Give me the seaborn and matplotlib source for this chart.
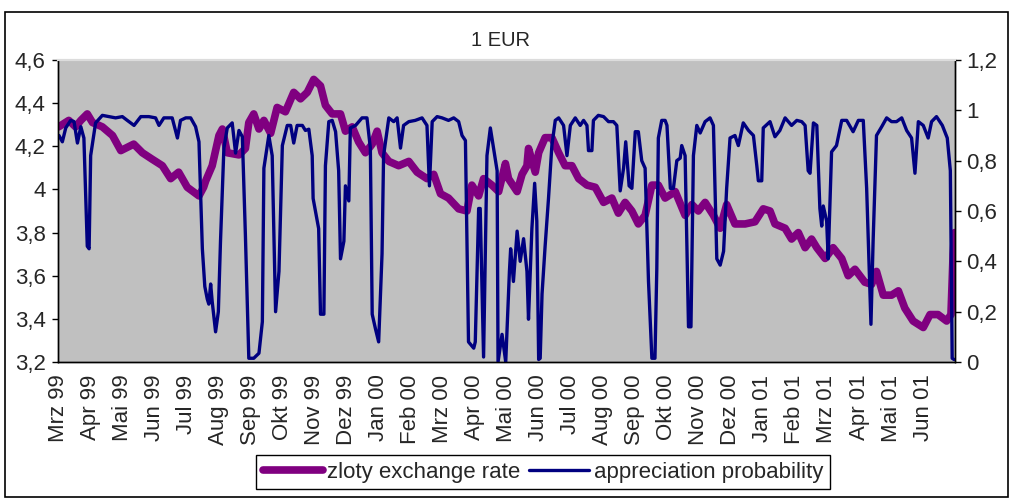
import matplotlib
matplotlib.use("Agg")
import matplotlib.pyplot as plt
import matplotlib.patches as patches
from matplotlib.ticker import FixedLocator, FuncFormatter, NullFormatter
import pandas as pd
import seaborn as sns

# x positions are months counted from the start of March 1999
rate_month = [0.02, 0.35, 0.57, 0.74, 0.95, 1.12, 1.44, 1.77, 2.04, 2.46, 2.74, 3.06,
              3.39, 3.66, 3.92, 4.20, 4.58, 4.73, 4.80, 5.01, 5.23, 5.34, 5.50, 5.88,
              6.09, 6.20, 6.36, 6.53, 6.69, 6.91, 7.12, 7.39, 7.66, 7.88, 8.10, 8.31,
              8.53, 8.69, 8.91, 9.18, 9.34, 9.56, 9.77, 9.99, 10.21, 10.37, 10.53, 10.75,
              11.07, 11.40, 11.67, 11.99, 12.21, 12.43, 12.69, 13.02, 13.29, 13.45, 13.67,
              13.83, 14.10, 14.32, 14.54, 14.64, 14.92, 15.08, 15.24, 15.29, 15.51, 15.62,
              15.83, 16.05, 16.27, 16.48, 16.70, 16.92, 17.19, 17.46, 17.73, 18.00, 18.21,
              18.43, 18.65, 18.86, 19.08, 19.30, 19.51, 19.73, 20.06, 20.38, 20.60, 20.81,
              21.03, 21.30, 21.52, 21.73, 22.00, 22.33, 22.65, 22.92, 23.14, 23.30, 23.63,
              23.84, 24.06, 24.28, 24.49, 24.66, 24.93, 25.19, 25.47, 25.68, 25.90, 26.22,
              26.44, 26.60, 26.82, 27.09, 27.31, 27.52, 27.79, 28.12, 28.34, 28.60, 28.88,
              29.02, 29.09, 29.14]
rate_value = [4.29, 4.32, 4.29, 4.32, 4.35, 4.31, 4.29, 4.25, 4.18, 4.21, 4.17, 4.14,
              4.11, 4.05, 4.08, 4.01, 3.97, 4.01, 4.04, 4.11, 4.25, 4.28, 4.17, 4.16,
              4.19, 4.31, 4.35, 4.28, 4.32, 4.26, 4.38, 4.36, 4.45, 4.42, 4.45, 4.51,
              4.48, 4.39, 4.35, 4.35, 4.27, 4.29, 4.22, 4.17, 4.21, 4.27, 4.17, 4.13,
              4.11, 4.13, 4.08, 4.05, 4.07, 3.98, 3.96, 3.91, 3.90, 4.02, 3.97,
              4.05, 4.02, 3.99, 4.12, 4.05, 3.99, 4.07, 4.11, 4.19, 4.08, 4.17,
              4.24, 4.24, 4.17, 4.11, 4.11, 4.05, 4.02, 4.01, 3.94, 3.96, 3.89,
              3.94, 3.90, 3.84, 3.88, 4.02, 4.02, 3.96, 3.99, 3.88, 3.93, 3.90,
              3.94, 3.88, 3.82, 3.93, 3.84, 3.84, 3.85, 3.91, 3.90, 3.84, 3.82,
              3.77, 3.80, 3.73, 3.77, 3.73, 3.68, 3.73, 3.68, 3.60, 3.63, 3.57,
              3.56, 3.62, 3.51, 3.51, 3.53, 3.45, 3.39, 3.36, 3.42, 3.42, 3.39,
              3.42, 3.70, 3.80]

prob_month = [0.03, 0.14, 0.25, 0.41, 0.52, 0.63, 0.74, 0.84, 0.95, 1.01, 1.06, 1.22,
              1.44, 1.66, 1.87, 2.09, 2.25, 2.47, 2.69, 2.95, 3.17, 3.28, 3.44, 3.71,
              3.88, 3.98, 4.15, 4.31, 4.47, 4.58, 4.69, 4.77, 4.85, 4.90, 4.96, 5.01,
              5.12, 5.21, 5.28, 5.39, 5.50, 5.66, 5.77, 5.88, 5.99, 6.09, 6.20, 6.36,
              6.53, 6.64, 6.69, 6.85, 6.96, 7.07, 7.18, 7.29, 7.45, 7.56, 7.66, 7.77,
              7.94, 8.04, 8.15, 8.26, 8.29, 8.47, 8.53, 8.64, 8.69, 8.80, 8.91, 9.02,
              9.12, 9.18, 9.29, 9.34, 9.45, 9.50, 9.67, 9.88, 10.04, 10.15, 10.21, 10.32,
              10.42, 10.53, 10.58, 10.75, 10.91, 11.02, 11.13, 11.23, 11.40, 11.61, 11.83,
              11.99, 12.07, 12.16, 12.32, 12.48, 12.69, 12.86, 13.02, 13.13, 13.24, 13.29,
              13.34, 13.51, 13.56, 13.67, 13.72, 13.83, 13.94, 14.05, 14.27, 14.30, 14.43,
              14.55, 14.67, 14.71, 14.80, 14.92, 15.02, 15.13, 15.24, 15.29, 15.40, 15.49,
              15.56, 15.62, 15.67, 15.73, 15.83, 15.94, 16.05, 16.16, 16.27, 16.43, 16.54,
              16.65, 16.81, 16.97, 17.08, 17.19, 17.24, 17.35, 17.40, 17.56, 17.73, 17.89,
              18.05, 18.16, 18.27, 18.38, 18.45, 18.56, 18.65, 18.76, 18.86, 18.97, 19.08,
              19.19, 19.30, 19.40, 19.46, 19.51, 19.62, 19.73, 19.79, 19.90, 20.00, 20.11,
              20.22, 20.27, 20.38, 20.49, 20.57, 20.65, 20.76, 20.87, 21.03, 21.19, 21.30,
              21.41, 21.52, 21.63, 21.73, 21.84, 22.00, 22.11, 22.27, 22.44, 22.60, 22.71,
              22.76, 22.87, 22.92, 23.14, 23.30, 23.46, 23.63, 23.84, 24.01, 24.17, 24.28,
              24.38, 24.44, 24.55, 24.66, 24.76, 24.82, 24.87, 24.98, 25.03, 25.14, 25.30,
              25.47, 25.63, 25.84, 26.01, 26.17, 26.28, 26.42, 26.49, 26.60, 26.77, 26.93,
              27.09, 27.25, 27.42, 27.58, 27.74, 27.85, 27.96, 28.12, 28.28, 28.39, 28.55,
              28.74, 28.90, 29.00, 29.06, 29.12]
prob_value = [0.90, 0.875, 0.93, 0.96, 0.955, 0.87, 0.935, 0.89, 0.46, 0.45, 0.82, 0.95,
              0.98, 0.975, 0.97, 0.975, 0.96, 0.94, 0.975, 0.975, 0.97, 0.94, 0.97, 0.97,
              0.89, 0.96, 0.97, 0.97, 0.935, 0.875, 0.45, 0.30, 0.25, 0.23, 0.31, 0.24,
              0.12, 0.20, 0.48, 0.85, 0.93, 0.95, 0.83, 0.92, 0.895, 0.50, 0.015, 0.015,
              0.035, 0.16, 0.77, 0.90, 0.82, 0.20, 0.36, 0.86, 0.94, 0.94, 0.87, 0.94,
              0.94, 0.92, 0.925, 0.82, 0.65, 0.53, 0.19, 0.19, 0.78, 0.955, 0.96, 0.915,
              0.76, 0.41, 0.48, 0.70, 0.64, 0.93, 0.94, 0.97, 0.97, 0.85, 0.19, 0.13,
              0.08, 0.43, 0.82, 0.97, 0.955, 0.97, 0.85, 0.94, 0.955, 0.96, 0.97,
              0.94, 0.70, 0.955, 0.975, 0.97, 0.96, 0.97, 0.955, 0.90, 0.88, 0.49,
              0.08, 0.055, 0.08, 0.61, 0.61, 0.02, 0.82, 0.93, 0.76, 0.0, 0.11,
              0.0, 0.36, 0.45, 0.32, 0.52, 0.40, 0.49, 0.36, 0.17, 0.53, 0.71,
              0.56, 0.01, 0.015, 0.27, 0.46, 0.65, 0.86, 0.96, 0.97, 0.94, 0.82,
              0.94, 0.97, 0.94, 0.96, 0.94, 0.84, 0.84, 0.96, 0.98, 0.975, 0.955,
              0.955, 0.94, 0.68, 0.77, 0.875, 0.70, 0.69, 0.915, 0.915, 0.80, 0.77,
              0.32, 0.015, 0.015, 0.37, 0.89, 0.96, 0.96, 0.94, 0.69, 0.69, 0.80,
              0.81, 0.86, 0.82, 0.14, 0.14, 0.82, 0.94, 0.91, 0.955, 0.97, 0.94,
              0.41, 0.385, 0.44, 0.69, 0.89, 0.90, 0.86, 0.95, 0.92, 0.90, 0.78,
              0.72, 0.72, 0.93, 0.955, 0.895, 0.92, 0.97, 0.94, 0.96, 0.955, 0.94,
              0.76, 0.75, 0.95, 0.94, 0.61, 0.54, 0.62, 0.56, 0.41, 0.835, 0.86,
              0.96, 0.96, 0.915, 0.96, 0.96, 0.69, 0.15, 0.48, 0.90, 0.935, 0.97,
              0.955, 0.955, 0.97, 0.92, 0.89, 0.75, 0.955, 0.94, 0.89, 0.955, 0.975,
              0.94, 0.89, 0.76, 0.015, 0.01]

month_labels = ["Mrz 99", "Apr 99", "Mai 99", "Jun 99", "Jul 99", "Aug 99", "Sep 99",
                "Okt 99", "Nov 99", "Dez 99", "Jan 00", "Feb 00", "Mrz 00", "Apr 00",
                "Mai 00", "Jun 00", "Jul 00", "Aug 00", "Sep 00", "Okt 00", "Nov 00",
                "Dez 00", "Jan 01", "Feb 01", "Mrz 01", "Apr 01", "Mai 01", "Jun 01"]

rate_ticks = [3.2, 3.4, 3.6, 3.8, 4.0, 4.2, 4.4, 4.6]
prob_ticks = [0, 0.2, 0.4, 0.6, 0.8, 1.0, 1.2]

sns.set_style("white")
plt.rcParams['font.family'] = ['Liberation Sans', 'DejaVu Sans']

df_rate = pd.DataFrame({"month": rate_month, "rate": rate_value})
df_prob = pd.DataFrame({"month": prob_month, "prob": prob_value})

fig = plt.figure(figsize=(10.13, 4.99), dpi=100)
ax = fig.add_axes([0.0573, 0.2745, 0.8854, 0.6053])
ax2 = ax.twinx()

sns.lineplot(data=df_rate, x="month", y="rate", ax=ax, color="#800080",
             linewidth=5.5, label="zloty exchange rate", legend=False)
sns.lineplot(data=df_prob, x="month", y="prob", ax=ax2, color="#000080",
             linewidth=2.4, label="appreciation probability", legend=False)

ax.set_facecolor("#c0c0c0")
ax.set_xlim(0, 29.15)
ax.set_ylim(3.2, 4.6)
ax2.set_ylim(0, 1.2)

comma = FuncFormatter(lambda v, p: ("%g" % round(v, 2)).replace(".", ","))
ax.yaxis.set_major_locator(FixedLocator(rate_ticks))
ax.yaxis.set_major_formatter(comma)
ax2.yaxis.set_major_locator(FixedLocator(prob_ticks))
ax2.yaxis.set_major_formatter(comma)

# tick marks every month, labels drawn on their own slightly wider grid
ax.xaxis.set_minor_locator(FixedLocator(list(range(0, 30))))
ax.xaxis.set_minor_formatter(NullFormatter())
ax.xaxis.set_major_locator(FixedLocator([k * 1.0413 for k in range(len(month_labels))]))
ax.set_xticklabels(month_labels, rotation=90)
ax.tick_params(axis="x", which="major", length=0, pad=9, labelsize=16)
ax.tick_params(axis="x", which="minor", direction="inout", length=9, width=1, color="black")
ax.tick_params(axis="y", which="major", direction="out", length=4, width=1, pad=5,
               labelsize=16, left=True, color="black")
ax2.tick_params(axis="y", which="major", direction="out", length=4, width=1, pad=4,
                labelsize=16, right=True, color="black")

ax.set_xlabel("")
ax.set_ylabel("")
ax2.set_ylabel("")

for a in (ax, ax2):
    for side in ("left", "bottom", "right"):
        a.spines[side].set_color("black")
        a.spines[side].set_linewidth(1)
    a.spines["top"].set_color("#dcdcdc")
    a.spines["top"].set_linewidth(1.5)

fig.text(0.494, 0.918, "1 EUR", ha="center", va="center", fontsize=14.5)

h1 = ax.get_lines()[0]
h2 = ax2.get_lines()[0]
leg = fig.legend([h1, h2], ["zloty exchange rate", "appreciation probability"],
                 loc="center", bbox_to_anchor=(0.536, 0.054), ncol=2, fontsize=16,
                 frameon=True, fancybox=False, edgecolor="black", framealpha=1,
                 handlelength=2.7, handletextpad=0.2, columnspacing=0.4,
                 borderpad=0.3, borderaxespad=0)
leg.get_frame().set_linewidth(1)

fig.patches.append(patches.Rectangle((0.005, 0.004), 0.99, 0.972, transform=fig.transFigure,
                                     fill=False, edgecolor="black", linewidth=1.2))

fig.savefig("out.png", dpi=100)
